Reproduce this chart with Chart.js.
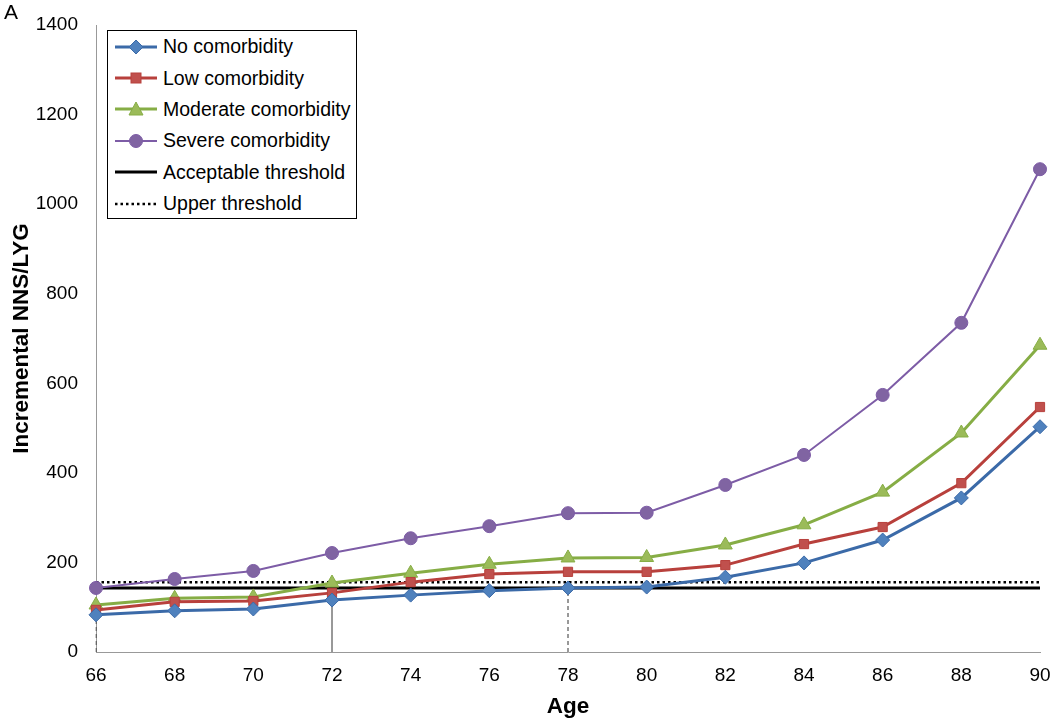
<!DOCTYPE html>
<html>
<head>
<meta charset="utf-8">
<script src="https://cdn.jsdelivr.net/npm/chart.js@4.4.1/dist/chart.umd.min.js"></script>
<style>
  body { margin: 0; background: #fff; font-family: Arial, "Liberation Sans", sans-serif; }
  #wrap { position: relative; width: 1050px; height: 718px; }
  #panel { position: absolute; left: 4px; top: 0px; font-size: 21px; color: #000; }
  #legend { position: absolute; left: 107px; top: 30px; width: 250px; height: 189px;
            border: 1px solid #000; background: #fff; box-sizing: border-box; }
  .item { display: flex; align-items: center; height: 31.4px; font-size: 19.5px; color: #000; white-space: nowrap; }
  .item svg { margin-left: 7px; margin-right: 6px; }
</style>
</head>
<body>
<div id="wrap">
  <canvas id="chart" width="1050" height="718"></canvas>
  <div id="panel">A</div>
  <div id="legend"></div>
</div>
<script>
// data
var ages = ['66','68','70','72','74','76','78','80','82','84','86','88','90'];
var noComorb  = [83, 92, 96, 116, 127, 137, 143, 145, 167, 199, 250, 344, 503];
var lowComorb = [94, 112, 114, 132, 156, 174, 179, 179, 194, 241, 279, 377, 547];
var modComorb = [105, 120, 123, 154, 176, 196, 210, 211, 239, 284, 357, 489, 685];
var sevComorb = [143, 163, 181, 221, 254, 281, 310, 311, 373, 440, 574, 735, 1078];
var acceptableThreshold = 143;
var upperThreshold = 156;
// vertical drop lines (age, height, dashed?)
var dropAges = ['66', '72', '78'];
var dropTops = [83, 143, 143];
var dropDashed = [true, false, true];
var yMin = 0, yMax = 1400, yStep = 200;

var seriesNames = ['No comorbidity', 'Low comorbidity', 'Moderate comorbidity', 'Severe comorbidity'];
var seriesData = [noComorb, lowComorb, modComorb, sevComorb];
var lineColors = ['#3b6aa8', '#b8403c', '#86ad45', '#7d5ca6'];
var fillColors = ['#4f81bd', '#c0504d', '#9bbb59', '#8064a2'];
var markers = ['rectRot', 'rect', 'triangle', 'circle'];
var markerSize = [7, 6.5, 8, 6.5];
var lineW = [3, 3, 3, 2];

var datasets = [];
for (var i = 0; i < seriesNames.length; i++) {
  datasets.push({
    label: seriesNames[i],
    data: seriesData[i],
    borderColor: lineColors[i],
    backgroundColor: fillColors[i],
    pointBackgroundColor: fillColors[i],
    pointBorderColor: lineColors[i],
    pointBorderWidth: 1,
    borderWidth: lineW[i],
    pointStyle: markers[i],
    pointRadius: markerSize[i],
    order: 1
  });
}
datasets.push({
  label: 'Acceptable threshold',
  data: ages.map(function(){ return acceptableThreshold; }),
  borderColor: '#000', borderWidth: 3, pointRadius: 0, order: 2
});
datasets.push({
  label: 'Upper threshold',
  data: ages.map(function(){ return upperThreshold; }),
  borderColor: '#000', borderWidth: 2.5, borderDash: [2.5, 3], pointRadius: 0, order: 2
});
for (var j = 0; j < dropAges.length; j++) {
  datasets.push({
    label: 'drop' + j,
    data: [{x: dropAges[j], y: 0}, {x: dropAges[j], y: dropTops[j]}],
    borderColor: '#333', borderWidth: 1,
    borderDash: dropDashed[j] ? [4, 3] : [],
    pointRadius: 0, order: 3
  });
}

new Chart(document.getElementById('chart'), {
  type: 'line',
  data: { labels: ages, datasets: datasets },
  options: {
    responsive: false,
    animation: false,
    layout: { padding: { left: 8, right: 10, top: 25, bottom: 0 } },
    plugins: { legend: { display: false }, tooltip: { enabled: false } },
    scales: {
      x: {
        type: 'category',
        offset: false,
        grid: { display: false, drawTicks: false },
        border: { color: '#999', width: 1 },
        ticks: { color: '#000', font: { size: 19, family: 'Arial' }, padding: 12, maxRotation: 0 },
        title: { display: true, text: 'Age', color: '#000', font: { size: 22.5, weight: 'bold', family: 'Arial', lineHeight: 1 }, padding: 0 },
        afterFit: function(s) { s.height = 718 - 652; s.paddingLeft = 0; s.paddingRight = 0; }
      },
      y: {
        min: yMin, max: yMax,
        grid: { display: false, drawTicks: false },
        border: { color: '#999', width: 1 },
        ticks: { stepSize: yStep, color: '#000', font: { size: 19, family: 'Arial' }, padding: 18,
                 callback: function(v) { return String(v); } },
        title: { display: true, text: 'Incremental NNS/LYG', color: '#000', font: { size: 22.5, weight: 'bold', family: 'Arial' }, padding: 0 },
        afterFit: function(s) { s.width = 96 - 8; s.paddingTop = 0; s.paddingBottom = 0; }
      }
    }
  }
});

// legend box inside the plot
var leg = document.getElementById('legend');
function symbol(k) {
  var svg = '<svg width="42" height="16" viewBox="0 0 42 16">';
  if (k < 4) {
    svg += '<line x1="0" y1="8" x2="42" y2="8" stroke="' + lineColors[k] + '" stroke-width="' + lineW[k] + '"/>';
    var f = fillColors[k], c = lineColors[k];
    if (markers[k] === 'rectRot') svg += '<polygon points="21,1 28,8 21,15 14,8" fill="' + f + '" stroke="' + c + '"/>';
    if (markers[k] === 'rect') svg += '<rect x="16" y="3" width="10" height="10" fill="' + f + '" stroke="' + c + '"/>';
    if (markers[k] === 'triangle') svg += '<polygon points="21,1 28,14 14,14" fill="' + f + '" stroke="' + c + '"/>';
    if (markers[k] === 'circle') svg += '<circle cx="21" cy="8" r="6.5" fill="' + f + '" stroke="' + c + '"/>';
  } else if (k === 4) {
    svg += '<line x1="0" y1="8" x2="42" y2="8" stroke="#000" stroke-width="3"/>';
  } else {
    svg += '<line x1="0" y1="8" x2="42" y2="8" stroke="#000" stroke-width="2.5" stroke-dasharray="2.5,3"/>';
  }
  return svg + '</svg>';
}
var legNames = seriesNames.concat(['Acceptable threshold', 'Upper threshold']);
for (var k = 0; k < legNames.length; k++) {
  var d = document.createElement('div');
  d.className = 'item';
  d.innerHTML = symbol(k) + '<span>' + legNames[k] + '</span>';
  leg.appendChild(d);
}
</script>
</body>
</html>
